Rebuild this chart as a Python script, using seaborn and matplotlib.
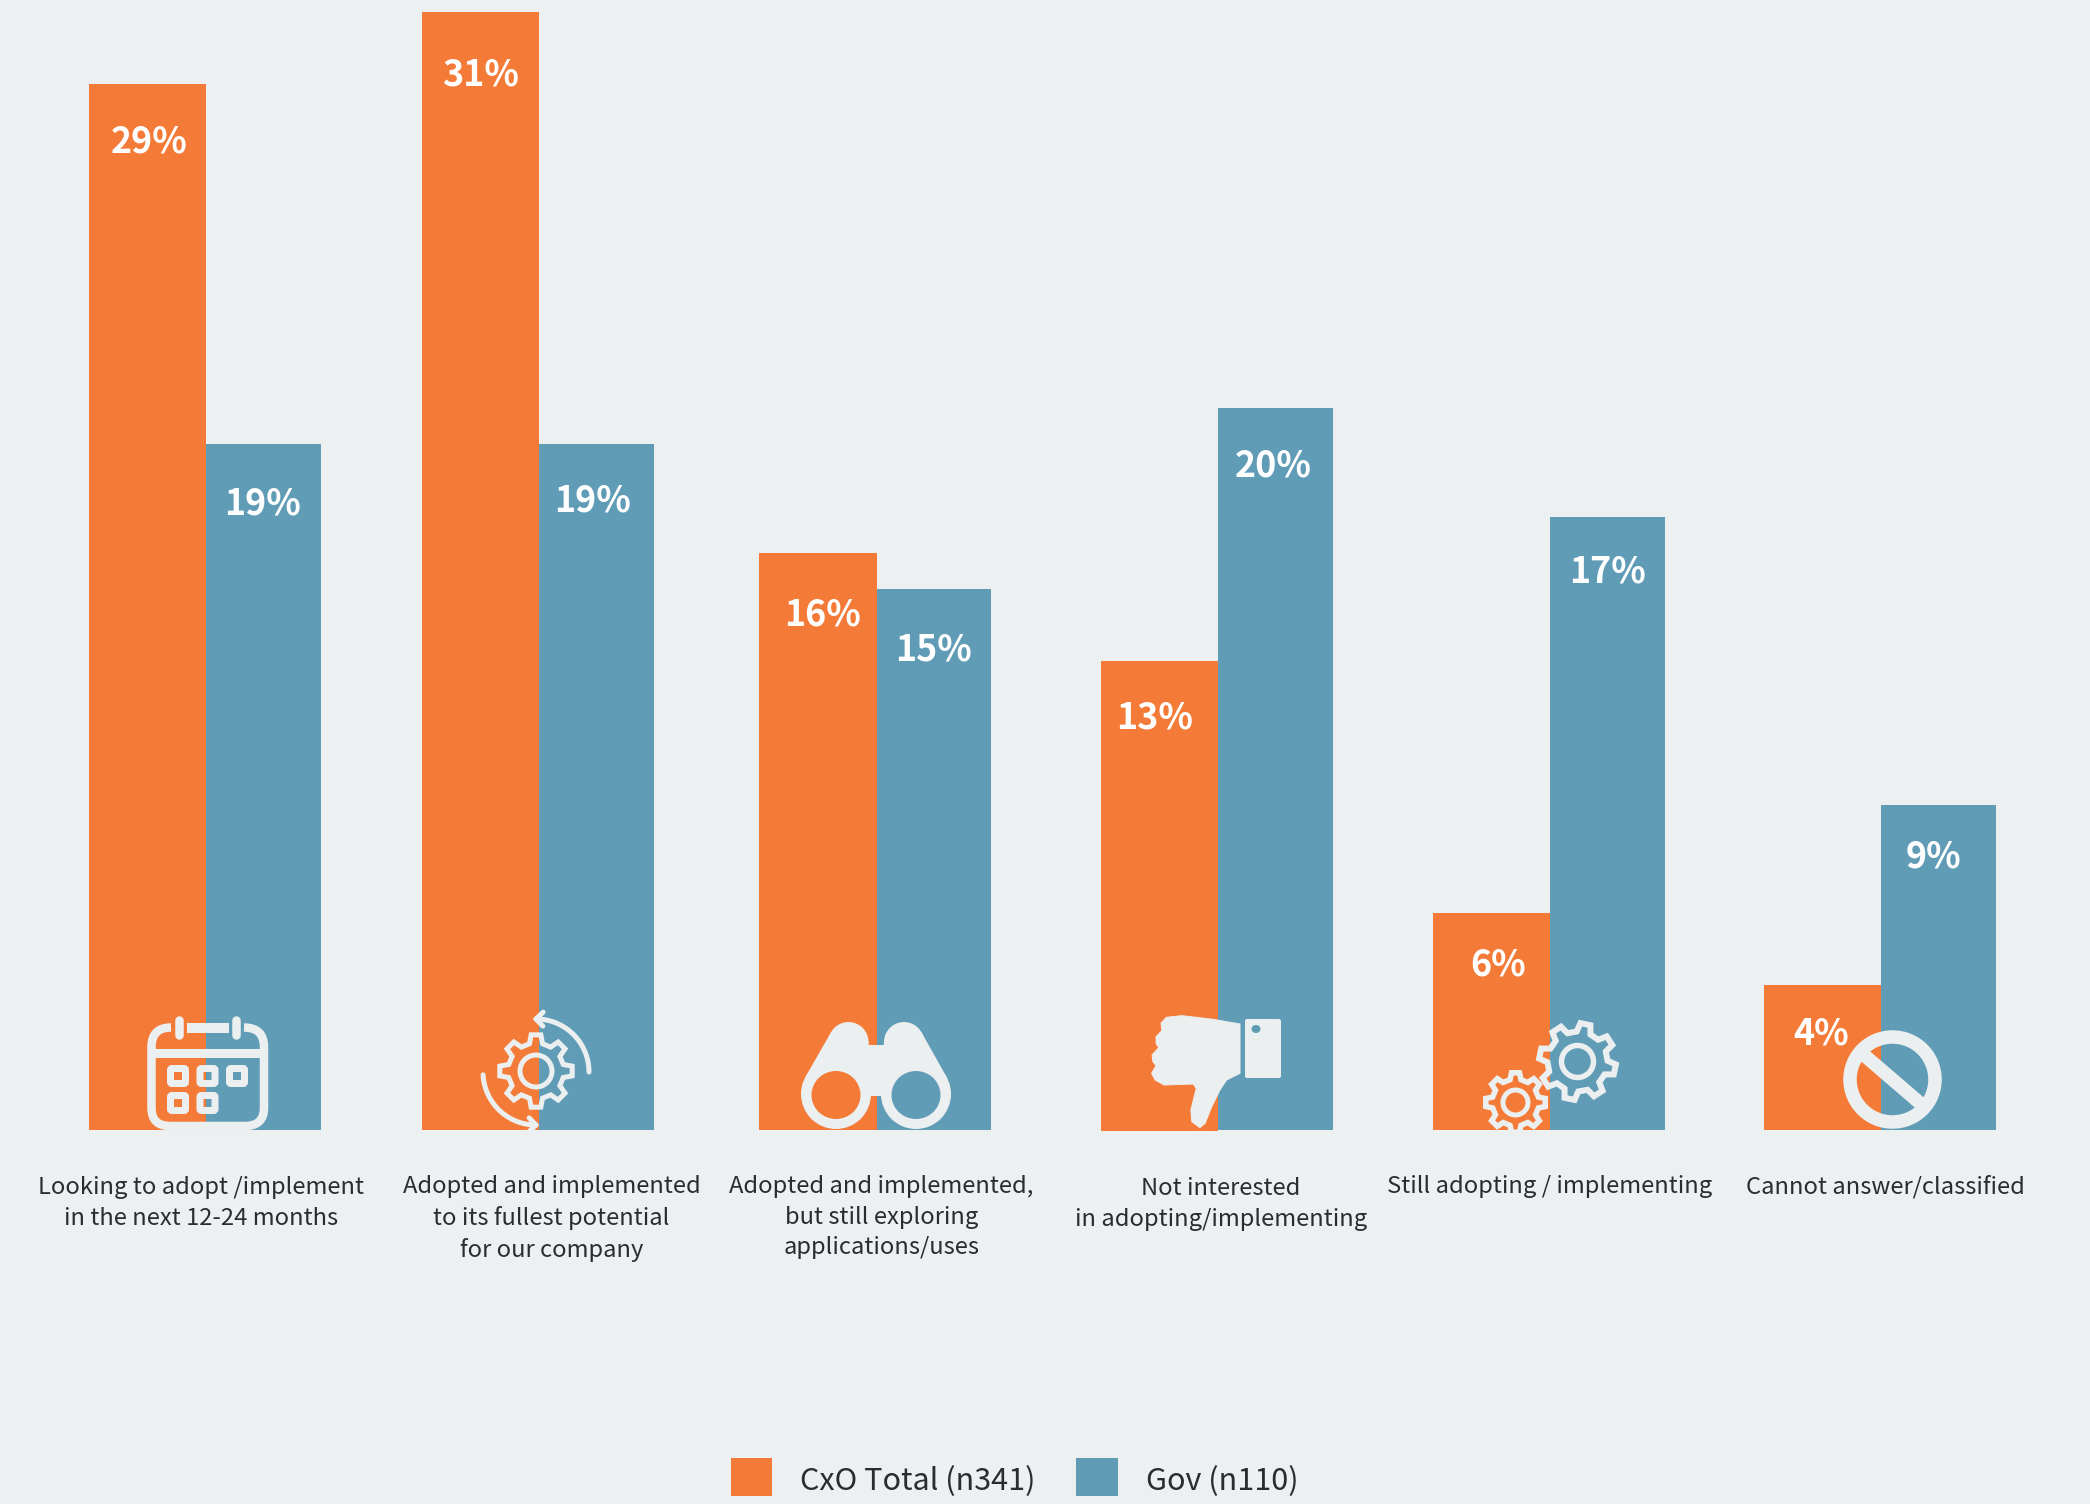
import numpy as np
import pandas as pd
import matplotlib
matplotlib.use("Agg")
import matplotlib.pyplot as plt
from matplotlib.patches import Circle, Ellipse, FancyBboxPatch, PathPatch, Polygon, Rectangle
from matplotlib.path import Path
from matplotlib.transforms import ScaledTranslation
import seaborn as sns

# Survey results, percent of respondents
categories = [
    "Looking to adopt /implement\nin the next 12-24 months",
    "Adopted and implemented\nto its fullest potential\nfor our company",
    "Adopted and implemented,\nbut still exploring\napplications/uses",
    "Not interested\nin adopting/implementing",
    "Still adopting / implementing",
    "Cannot answer/classified",
]
cxo_total = [29, 31, 16, 13, 6, 4]
gov = [19, 19, 15, 20, 17, 9]
series_names = ["CxO Total (n341)", "Gov (n110)"]

# Layout, in pixels of the 2090x1504 canvas
W, H = 2090, 1504
BASE_Y = 1129.7
PX_PER_PCT = 36.07
group_split = [206.0, 539.0, 876.6, 1218.0, 1550.0, 1881.0]
label_centers = [201.5, 551.5, 881.5, 1221, 1549.5, 1885]
label_shift = [1, 0, 0, 2.5, 0, 0]
label_dx = [1.5, -0.5, 0, -4, 5, 0, -4.5, -2, 7, 0, -1, -5]
label_drop = [58, 60, 63, 57, 62, 61, 57, 58, 52, 55, 49, 52]

BG = "#ECF0F1"
ORANGE = "#F47B37"
BLUE = "#619CB7"
ICON = "#ECEFF0"
TEXT = "#2B2B30"

sns.set_theme(style="white")
plt.rcParams["font.family"] = ["Noto Sans CJK SC", "DejaVu Sans"]

df = pd.DataFrame({
    "split": group_split * 2,
    "share": cxo_total + gov,
    "series": [series_names[0]] * 6 + [series_names[1]] * 6,
})

fig = plt.figure(figsize=(W / 100, H / 100), dpi=100, facecolor=BG)
ax = fig.add_axes([0, 1 - BASE_Y / H, 1, BASE_Y / H], facecolor=BG)
sns.barplot(data=df, x="split", y="share", hue="series", native_scale=True,
            palette=[ORANGE, BLUE], width=0.7, gap=0, saturation=1,
            errorbar=None, ax=ax)
ax.set_xlim(0, W)
ax.set_ylim(0, BASE_Y / PX_PER_PCT)

# Groups sit flush at their split; the orange bars are slightly wider
bar_widths = [117.4, 114.8]
for k, container in enumerate(ax.containers):
    for patch, split in zip(container, group_split):
        patch.set_width(bar_widths[k])
        patch.set_x(split - bar_widths[k] if k == 0 else split)
        patch.set_linewidth(0)
        patch.set_zorder(3 - k)

# The fourth orange bar hangs just under the shared baseline
low_bar = ax.containers[0][3]
low_bar.set_y(-1.5 / PX_PER_PCT)
low_bar.set_height(low_bar.get_height() + 1.5 / PX_PER_PCT)
low_bar.set_clip_on(False)

# Value labels inside the bars
values = [v for pair in zip(cxo_total, gov) for v in pair]
bars = [b for pair in zip(ax.containers[0], ax.containers[1]) for b in pair]
for bar, v, dx, drop in zip(bars, values, label_dx, label_drop):
    ax.annotate(f"{v}%", xy=(bar.get_x() + bar.get_width() / 2 + dx, v),
                xytext=(0, -drop * 0.72), textcoords="offset points",
                ha="center", va="center", color="white",
                fontsize=25.8, fontweight="bold", zorder=6)

sns.despine(ax=ax, left=True, bottom=True)
ax.set_yticks([])
ax.set_xlabel("")
ax.set_ylabel("")
ax.set_xticks(label_centers, categories, fontsize=17.1, color=TEXT,
              linespacing=1.43)
ax.tick_params(axis="x", length=0, pad=32.6)
for lab, shift in zip(ax.get_xticklabels(), label_shift):
    lab.set_va("top")
    lab.set_transform(lab.get_transform()
                      + ScaledTranslation(0, -shift * 0.72 / 72, fig.dpi_scale_trans))

# Legend below the chart
handles, names = ax.get_legend_handles_labels()
leg = ax.legend(handles, names, ncol=2, frameon=False, loc="center left",
                bbox_to_anchor=(703 / W, 1 - 1480 / H), bbox_transform=fig.transFigure,
                fontsize=22, handlelength=1.37, handleheight=1.5,
                handletextpad=0.92, columnspacing=1.32, labelcolor=TEXT)
for swatch in leg.get_patches():
    swatch.set_linewidth(0)
    swatch.set_y(swatch.get_y() + 2.2)

# Icon layer drawn in canvas pixels
ic = fig.add_axes([0, 0, 1, 1], facecolor="none", zorder=5)
ic.set_xlim(0, W)
ic.set_ylim(H, 0)
ic.axis("off")


def lw(px):
    return px * 0.72


def stroke(xs, ys, width, cap="round"):
    ic.plot(xs, ys, color=ICON, lw=lw(width), solid_capstyle=cap, solid_joinstyle="round")


def outlined_round_box(x0, y0, x1, y1, pad, width, **kw):
    ic.add_patch(FancyBboxPatch((x0 + pad, y0 + pad), x1 - x0 - 2 * pad, y1 - y0 - 2 * pad,
                                boxstyle=f"round,pad={pad}", lw=lw(width), **kw))


def gear(cx, cy, r_out, r_root, r_hub, teeth, rot, width, hub_width):
    pts = []
    step = 2 * np.pi / teeth
    for i in range(teeth):
        a = i * step + np.deg2rad(rot)
        pts += [(r_root, a - 0.30 * step), (r_out, a - 0.17 * step),
                (r_out, a + 0.17 * step), (r_root, a + 0.30 * step)]
    xy = [(cx + r * np.cos(t), cy + r * np.sin(t)) for r, t in pts]
    ic.add_patch(Polygon(xy, closed=True, fc="none", ec=ICON, lw=lw(width), joinstyle="miter"))
    ic.add_patch(Circle((cx, cy), r_hub, fc="none", ec=ICON, lw=lw(hub_width)))


def arc_arrow(cx, cy, r, a0, a1, width, head):
    t = np.deg2rad(np.linspace(a0, a1, 40))
    xs, ys = cx + r * np.cos(t), cy + r * np.sin(t)
    stroke(xs, ys, width)
    d = np.array([xs[-1] - xs[-2], ys[-1] - ys[-2]])
    d /= np.linalg.norm(d)
    n = np.array([-d[1], d[0]])
    tip = np.array([xs[-1], ys[-1]])
    for s in (1, -1):
        p = tip - d * head + s * n * head
        stroke([tip[0], p[0]], [tip[1], p[1]], width)


def capsule_pair(c1, r1, c2, r2):
    c1, c2 = np.array(c1, float), np.array(c2, float)
    d = c2 - c1
    L = np.linalg.norm(d)
    base = np.arctan2(d[1], d[0])
    beta = np.arccos((r1 - r2) / L)
    pts = []
    for s in (1, -1):
        n = np.array([np.cos(base + s * beta), np.sin(base + s * beta)])
        pts.append((c1 + r1 * n, c2 + r2 * n))
    ic.add_patch(Polygon([pts[0][0], pts[0][1], pts[1][1], pts[1][0]], closed=True, fc=ICON, ec="none"))
    ic.add_patch(Circle(c1, r1, fc=ICON, ec="none"))
    ic.add_patch(Circle(c2, r2, fc=ICON, ec="none"))


# Calendar
frame_verts = [(171, 1027.5), (151.5, 1027.5), (151.5, 1047), (151.5, 1108),
               (151.5, 1126), (170, 1126), (245, 1126), (264, 1126), (264, 1108),
               (264, 1047), (264, 1027.5), (244, 1027.5)]
frame_codes = [Path.MOVETO, Path.CURVE3, Path.CURVE3, Path.LINETO, Path.CURVE3, Path.CURVE3,
               Path.LINETO, Path.CURVE3, Path.CURVE3, Path.LINETO, Path.CURVE3, Path.CURVE3]
ic.add_patch(PathPatch(Path(frame_verts, frame_codes), fc="none", ec=ICON, lw=lw(8.5)))
ic.add_patch(Rectangle((187, 1023), 42, 9.5, fc=ICON, ec="none"))
stroke([179, 179], [1020, 1035], 8.5)
stroke([235.5, 235.5], [1020, 1035], 8.5)
ic.add_patch(Rectangle((151, 1048.5), 113, 9, fc=ICON, ec="none"))
for cx_ in (178, 207.5, 237):
    outlined_round_box(cx_ - 7.5, 1076 - 7.5, cx_ + 7.5, 1076 + 7.5, 1.5, 7, fc="none", ec=ICON)
for cx_ in (178, 207.5):
    outlined_round_box(cx_ - 7.5, 1103 - 7.5, cx_ + 7.5, 1103 + 7.5, 1.5, 7, fc="none", ec=ICON)

# Gear with circular arrows
gear(536, 1071, 36.5, 28, 16, 8, 0, 5, 5)
arc_arrow(536, 1072, 53, 0, -90, 5, 7)
arc_arrow(536, 1072, 53, 177, 90, 5, 7)

# Binoculars
capsule_pair((836, 1094), 35, (848.5, 1042), 20)
capsule_pair((916, 1094), 35, (904, 1042), 20)
ic.add_patch(Rectangle((866, 1045), 20, 51, fc=ICON, ec="none"))
ic.add_patch(Ellipse((836, 1095), 49, 48, fc=ORANGE, ec="none"))
ic.add_patch(Ellipse((916, 1095), 49, 48, fc=BLUE, ec="none"))

# Thumbs down
thumb_zoom = [(1120, 132), (1060, 118), (990, 107), (955, 112), (943, 130), (945, 152),
              (932, 170), (932, 190), (938, 203), (923, 225), (925, 245), (932, 257),
              (922, 280), (930, 300), (950, 315), (1015, 312), (1022, 325), (1010, 390),
              (1012, 425), (1030, 443), (1042, 430), (1055, 385), (1075, 330), (1090, 300),
              (1120, 280)]
thumb_xy = [(740 + x / 2.24, 980 + y / 3) for x, y in thumb_zoom]
ic.add_patch(Polygon(thumb_xy, closed=True, fc=ICON, ec=ICON, lw=lw(1), joinstyle="round"))
ic.add_patch(FancyBboxPatch((1247, 1021), 32, 55, boxstyle="round,pad=2", fc=ICON, ec="none"))
ic.add_patch(Ellipse((1256, 1029), 9, 8, fc=BLUE, ec="none"))

# Pair of gears
gear(1577.5, 1061.5, 38.5, 30, 16, 8, 12, 6, 5.5)
gear(1515.5, 1102.5, 30, 23.5, 12.5, 8, 0, 5.5, 5)

# Prohibition sign
ic.add_patch(Circle((1892.5, 1079.5), 42.5, fc="none", ec=ICON, lw=lw(13.5)))
stroke([1864, 1921], [1055, 1104], 13.5, "butt")

fig.savefig("out.png", dpi=100, facecolor=BG)
